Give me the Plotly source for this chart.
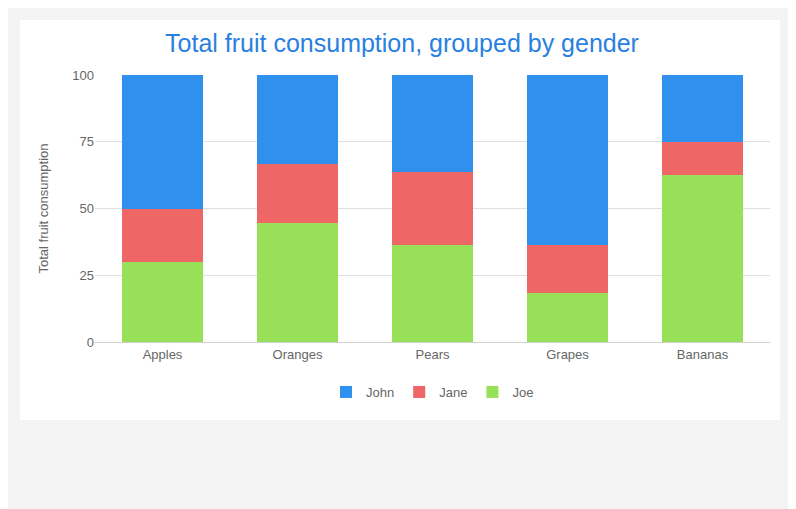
import plotly.graph_objects as go

fruits = ["Apples", "Oranges", "Pears", "Grapes", "Bananas"]
john = [5, 3, 4, 7, 2]
jane = [2, 2, 3, 2, 1]
joe = [3, 4, 4, 2, 5]
tick_vals = [0, 25, 50, 75, 100]

fig = go.Figure()
fig.add_bar(x=fruits, y=joe, name="Joe", marker_color="#98e058", marker_line_width=0, legendrank=3)
fig.add_bar(x=fruits, y=jane, name="Jane", marker_color="#ee6666", marker_line_width=0, legendrank=2)
fig.add_bar(x=fruits, y=john, name="John", marker_color="#3090ee", marker_line_width=0, legendrank=1)

off = 8  # page body margin
W, H = 796 - off, 509 - off
l, r, t, b = 95 - off, 26, 75 - off, 167
pw, ph = W - l - r, H - t - b
fig.add_shape(type="rect", xref="paper", yref="paper", layer="below",
              x0=(20 - off - l) / pw, x1=(780 - off - l) / pw,
              y0=(H - b - (420 - off)) / ph, y1=(H - b - (20 - off)) / ph,
              fillcolor="white", line_width=0)

fig.update_layout(
    width=W, height=H, barmode="stack", barnorm="percent", bargap=0.4,
    margin=dict(l=l, r=r, t=t, b=b),
    paper_bgcolor="#f3f3f3", plot_bgcolor="white",
    font=dict(family="Arial, Liberation Sans", size=13, color="#666"),
    title=dict(text="Total fruit consumption, grouped by gender", x=0.5, xanchor="center",
               y=1 - (43 - off) / H, yanchor="middle", font=dict(size=25, color="#2a80e0")),
    legend=dict(orientation="h", x=0.5, xanchor="center", y=(H - b - (392 - off)) / ph, yanchor="middle",
                traceorder="normal", bgcolor="white", itemwidth=30,
                font=dict(size=13, color="#666")),
    yaxis=dict(range=[0, 100], tickvals=tick_vals, gridcolor="#e0e0e0", zeroline=False,
               title=dict(text="Total fruit consumption", font=dict(size=13, color="#666"), standoff=20),
               ticklen=0),
    xaxis=dict(showline=True, linecolor="#d0d0d0"),
)
fig.write_html("out.html")
